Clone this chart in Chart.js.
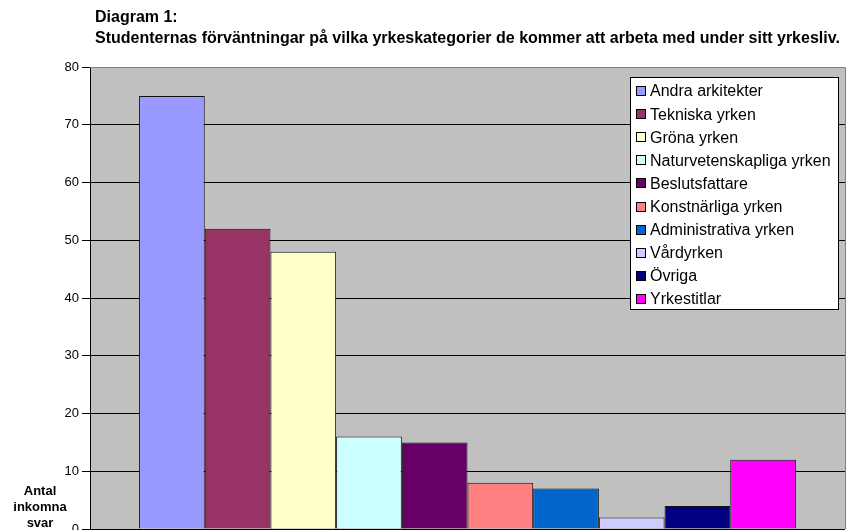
<!DOCTYPE html>
<html>
<head>
<meta charset="utf-8">
<script src="https://cdn.jsdelivr.net/npm/chart.js@4.4.1/dist/chart.umd.min.js"></script>
<style>
  html,body{margin:0;padding:0;background:#fff;}
  #wrap{position:relative;width:864px;height:530px;}
</style>
</head>
<body>
<div id="wrap"><canvas id="c" width="864" height="530"></canvas></div>
<script>
  const TITLE_LINES = ['Diagram 1:', 'Studenternas förväntningar på vilka yrkeskategorier de kommer att arbeta med under sitt yrkesliv.'];
  const Y_TITLE = ['Antal', 'inkomna', 'svar'];
  const CATEGORIES = ['Andra arkitekter','Tekniska yrken','Gröna yrken','Naturvetenskapliga yrken','Beslutsfattare','Konstnärliga yrken','Administrativa yrken','Vårdyrken','Övriga','Yrkestitlar'];
  const VALUES = [75, 52, 48, 16, 15, 8, 7, 2, 4, 12];
  const COLORS = ['#9999FF','#993366','#FFFFCC','#CCFFFF','#660066','#FF8080','#0066CC','#CCCCFF','#000080','#FF00FF'];
  const Y_TICKS = [0,10,20,30,40,50,60,70,80];

  // plot background, frame, titles and the boxed legend
  const decor = {
    id:'decor',
    beforeDraw(chart){
      const {ctx, chartArea:a} = chart;
      ctx.save();
      ctx.fillStyle='#C0C0C0';
      ctx.fillRect(a.left, a.top, a.right-a.left, a.bottom-a.top);
      ctx.restore();
    },
    afterDraw(chart){
      const {ctx, chartArea:a} = chart;
      ctx.save();
      ctx.strokeStyle='#808080'; ctx.lineWidth=1;
      ctx.beginPath();
      ctx.moveTo(a.left, a.top+0.5); ctx.lineTo(a.right+0.5, a.top+0.5);
      ctx.lineTo(a.right+0.5, a.bottom);
      ctx.stroke();

      ctx.fillStyle='#000';
      ctx.font='bold 16px Arial, "Liberation Sans", sans-serif';
      ctx.textBaseline='middle'; ctx.textAlign='left';
      ctx.fillText(TITLE_LINES[0], 95, 18);
      ctx.fillText(TITLE_LINES[1], 95, 39);

      ctx.font='bold 13px Arial, "Liberation Sans", sans-serif';
      ctx.textAlign='center';
      Y_TITLE.forEach((t,i)=> ctx.fillText(t, 40, 491 + i*16));

      // legend box
      const lx=630, ly=77, lw=208, lh=232;
      ctx.fillStyle='#fff'; ctx.fillRect(lx, ly, lw, lh);
      ctx.strokeStyle='#000'; ctx.strokeRect(lx+0.5, ly+0.5, lw, lh);
      ctx.font='16px Arial, "Liberation Sans", sans-serif';
      ctx.textAlign='left';
      chart.data.datasets.forEach((ds,i)=>{
        const y = 91 + i*23.1;
        ctx.fillStyle=ds.backgroundColor;
        ctx.fillRect(636, Math.round(y)-5, 10, 10);
        ctx.strokeStyle='#000';
        ctx.strokeRect(636.5, Math.round(y)-5+0.5, 9, 9);
        ctx.fillStyle='#000';
        ctx.fillText(ds.label, 650, y+1);
      });
      ctx.restore();
    }
  };

  const datasets = CATEGORIES.map((name,i)=>({
    label:name,
    data:[VALUES[i]],
    backgroundColor:COLORS[i],
    borderColor:'#111',
    borderWidth:1,
    categoryPercentage:0.87,
    barPercentage:1
  }));

  new Chart(document.getElementById('c'), {
    type:'bar',
    data:{ labels:[''], datasets },
    options:{
      responsive:false, animation:false,
      layout:{ padding:{ top:67, right:19, bottom:1, left:0 } },
      plugins:{ legend:{display:false}, title:{display:false}, tooltip:{enabled:false} },
      scales:{
        x:{ display:false },
        y:{
          min:0, max:80,
          afterFit(axis){ axis.width = 90; axis.paddingTop = 0; axis.paddingBottom = 0; },
          afterBuildTicks(axis){ axis.ticks = Y_TICKS.map(v=>({value:v})); },
          ticks:{ color:'#000', font:{family:'Arial, "Liberation Sans", sans-serif', size:13}, padding:3 },
          grid:{ color:'#000', lineWidth:1, tickLength:8, tickColor:'#000' },
          border:{ display:true, color:'#000', width:1 }
        }
      }
    },
    plugins:[decor]
  });
</script>
</body>
</html>
